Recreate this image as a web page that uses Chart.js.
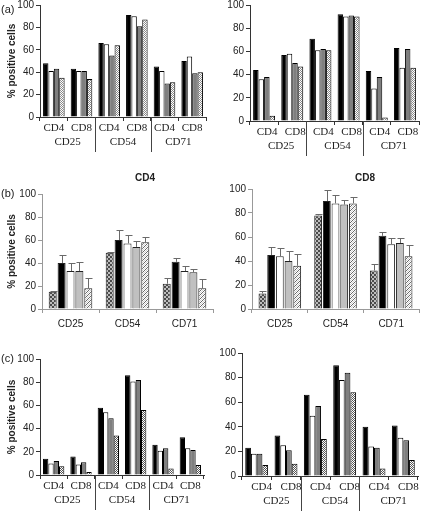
<!DOCTYPE html>
<html>
<head>
<meta charset="utf-8">
<script src="https://cdn.jsdelivr.net/npm/chart.js@4.4.0/dist/chart.umd.min.js"></script>
<style>
  body { margin: 0; background: #fff; }
  #page { position: relative; width: 421px; height: 513px; overflow: hidden; font-family: "Liberation Sans", Arial, sans-serif; color: #222; }
  canvas { position: absolute; }
  .tag { position: absolute; font-size: 11px; }
  .ttl { position: absolute; font-size: 10px; font-weight: bold; transform: translateX(-50%); }
</style>
</head>
<body>
<div id="page">
  <canvas id="a1"></canvas>
  <canvas id="a2"></canvas>
  <canvas id="b1"></canvas>
  <canvas id="b2"></canvas>
  <canvas id="c1"></canvas>
  <canvas id="c2"></canvas>
  <div class="tag" style="left:1px;top:3px">(a)</div>
  <div class="tag" style="left:1px;top:187px">(b)</div>
  <div class="tag" style="left:1px;top:352px">(c)</div>
  <div class="ttl" style="left:145px;top:172px">CD4</div>
  <div class="ttl" style="left:365px;top:172px">CD8</div>
</div>
<script>
// categories
const groupNames = ['CD25', 'CD54', 'CD71'];
const subsetNames = ['CD4', 'CD8', 'CD4', 'CD8', 'CD4', 'CD8'];

// (a) left
const a1Black = [48, 43, 66, 91, 45, 50];
const a1White = [41, 41, 65, 90, 41, 54];
const a1Gray  = [43, 41, 55, 81, 30, 39];
const a1Hatch = [35, 34, 64, 87, 31, 40];

// (a) right
const a2Black = [44, 57, 71, 92, 43, 63];
const a2White = [36, 58, 61, 90, 28, 46];
const a2Gray  = [38, 50, 62, 91, 38, 62];
const a2Hatch = [4.5, 47, 61, 90, 3, 46];

// (b) left - CD4, mean and upper error
const b1Check = [15, 49, 22];
const b1Black = [40, 60, 41];
const b1White = [33, 57, 33];
const b1Gray  = [33, 54, 32];
const b1Hatch = [18, 58, 18];
const b1CheckErr = [1, 1, 5];
const b1BlackErr = [7, 9, 3];
const b1WhiteErr = [7, 7, 4];
const b1GrayErr  = [8, 5, 3];
const b1HatchErr = [9, 5, 8];

// (b) right - CD8
const b2Check = [13, 78, 32];
const b2Black = [45, 90, 61];
const b2White = [44, 88, 54];
const b2Gray  = [40, 87, 55];
const b2Hatch = [36, 88, 44];
const b2CheckErr = [2, 1, 5.5];
const b2BlackErr = [7, 9.5, 3];
const b2WhiteErr = [7, 7, 5];
const b2GrayErr  = [8, 4, 4];
const b2HatchErr = [10, 5, 9];

// (c) left
const c1Black = [14, 16, 58, 86, 26, 32.5];
const c1White = [10, 9, 54, 80.5, 21, 23];
const c1Gray  = [12, 11, 49, 82, 23, 21.5];
const c1Hatch = [7.5, 2.6, 34, 56, 5.7, 8.6];

// (c) right
const c2Black = [23, 33, 66, 90, 40, 41];
const c2White = [18, 25, 49, 78, 24, 31];
const c2Gray  = [18, 21, 57, 84, 23, 29];
const c2Hatch = [9, 10, 30, 68, 6, 13];

Chart.defaults.font.family = '"Liberation Sans", Arial, sans-serif';
Chart.defaults.animation = false;

function makePattern(kind) {
  const c = document.createElement('canvas');
  c.width = 4; c.height = 4;
  const g = c.getContext('2d');
  g.fillStyle = '#fff';
  g.fillRect(0, 0, 4, 4);
  for (let y = 0; y < 4; y++) {
    for (let x = 0; x < 4; x++) {
      if (kind === 'dither' && (x + y) % 2 === 0) { g.fillStyle = '#8a8a8a'; g.fillRect(x, y, 1, 1); }
      if (kind === 'ditherDark' && (x + y) % 2 === 0) { g.fillStyle = '#555'; g.fillRect(x, y, 1, 1); }
      if (kind === 'blocks') {
        g.fillStyle = ((x >> 1) + (y >> 1)) % 2 ? '#bdbdbd' : '#4a4a4a';
        g.fillRect(x, y, 1, 1);
      }
      if (kind === 'diag' && (x + y) % 4 === 0) { g.fillStyle = '#6a6a6a'; g.fillRect(x, y, 1, 1); }
      if (kind === 'diag' && (x + y) % 4 === 2) { g.fillStyle = '#d0d0d0'; g.fillRect(x, y, 1, 1); }
    }
  }
  return g.createPattern(c, 'repeat');
}

const errorBars = {
  id: 'errorBars',
  afterDatasetsDraw(chart) {
    const ctx = chart.ctx, y = chart.scales.y;
    chart.data.datasets.forEach((ds, i) => {
      if (!ds.errors) return;
      chart.getDatasetMeta(i).data.forEach((bar, j) => {
        const top = Math.round(y.getPixelForValue(ds.data[j] + ds.errors[j])) + 0.5;
        const cx = Math.round(bar.x) + 0.5;
        ctx.save();
        ctx.strokeStyle = '#6a6a6a';
        ctx.lineWidth = 1;
        ctx.beginPath();
        ctx.moveTo(cx, bar.y);
        ctx.lineTo(cx, top);
        ctx.moveTo(cx - 3, top);
        ctx.lineTo(cx + 4, top);
        ctx.stroke();
        ctx.restore();
      });
    });
  }
};

const groupDividers = {
  id: 'groupDividers',
  afterDraw(chart, args, opts) {
    if (!opts.length) return;
    const x = chart.scales.x, ctx = chart.ctx, b = chart.chartArea.bottom;
    ctx.save();
    ctx.strokeStyle = '#444';
    ctx.lineWidth = 1;
    [2, 4].forEach(k => {
      const px = Math.round((x.getPixelForValue(k - 1) + x.getPixelForValue(k)) / 2) + 0.5;
      ctx.beginPath();
      ctx.moveTo(px, b);
      ctx.lineTo(px, b + opts.length);
      ctx.stroke();
    });
    ctx.restore();
  }
};

function fourBars(black, white, gray, hatch, hatchFill) {
  return [
    { data: black, backgroundColor: '#000' },
    { data: white, backgroundColor: '#fff' },
    { data: gray, backgroundColor: '#7f7f7f' },
    { data: hatch, backgroundColor: hatchFill }
  ].map(d => Object.assign(d, { borderColor: '#000', borderWidth: 1, barPercentage: 1, categoryPercentage: 0.78 }));
}

function fiveBars(vals, errs) {
  const fills = [makePattern('blocks'), '#000', '#fff', '#c0c0c0', makePattern('diag')];
  return vals.map((v, i) => ({
    data: v, errors: errs[i], backgroundColor: fills[i],
    borderColor: '#222', borderWidth: 1, barPercentage: 0.9, categoryPercentage: 0.78
  }));
}

function makeChart(id, box, area, labels, datasets, o) {
  const cv = document.getElementById(id);
  cv.width = box.w; cv.height = box.h;
  cv.style.left = box.x + 'px';
  cv.style.top = box.y + 'px';
  const axisColor = o.axisColor;
  const xH = o.twoRow ? 19 : 20;
  const x2H = o.twoRow ? 14 : 0;
  const xFont = o.twoRow ? { family: '"Liberation Serif", "Times New Roman", serif', size: 11 } : { size: 10 };
  const scales = {
    x: {
      type: 'category', offset: true, weight: 0,
      grid: { display: true, offset: true, drawOnChartArea: false, tickLength: 4, color: axisColor },
      border: { display: true, color: axisColor },
      ticks: { autoSkip: false, maxRotation: 0, padding: o.twoRow ? 1 : 5, color: '#222', font: xFont, labelOffset: o.labelOffset || 0 },
      afterFit: s => { s.height = xH; }
    },
    y: {
      min: 0, max: 100,
      ticks: { stepSize: 20, padding: 2, color: '#222', font: { size: 10 } },
      grid: { drawOnChartArea: false, tickLength: 4, color: axisColor },
      border: { display: true, color: axisColor },
      title: {
        display: !!o.yTitle, text: o.yTitle, color: '#222',
        font: { size: 10, weight: 'bold' }, padding: { top: 6, bottom: 0 }
      },
      afterFit: s => { s.width = area.l - box.x; }
    }
  };
  if (o.twoRow) {
    scales.x2 = {
      type: 'category', labels: groupNames, offset: true, position: 'bottom', weight: 1,
      grid: { display: false, drawTicks: false }, border: { display: false },
      ticks: { autoSkip: false, maxRotation: 0, padding: 0, color: '#222', font: xFont, labelOffset: o.labelOffset || 0 },
      afterFit: s => { s.height = x2H; }
    };
  }
  return new Chart(cv, {
    type: 'bar',
    data: { labels: labels, datasets: datasets },
    options: {
      responsive: false,
      animation: false,
      layout: {
        padding: {
          left: 0,
          top: area.t - box.y,
          right: box.x + box.w - area.r,
          bottom: box.y + box.h - area.b - xH - x2H
        }
      },
      scales: scales,
      plugins: {
        legend: { display: false },
        tooltip: { enabled: false },
        groupDividers: { length: o.twoRow ? 35 : 0 }
      }
    },
    plugins: [errorBars, groupDividers]
  });
}

const TITLE = '% positive cells';

makeChart('a1', { x: 0, y: -4, w: 212, h: 180 }, { l: 40, t: 5, r: 206, b: 117 }, subsetNames,
  fourBars(a1Black, a1White, a1Gray, a1Hatch, makePattern('dither')),
  { twoRow: true, yTitle: TITLE, axisColor: '#333' });

makeChart('a2', { x: 212, y: -4, w: 209, h: 180 }, { l: 250, t: 5, r: 419, b: 121 }, subsetNames,
  fourBars(a2Black, a2White, a2Gray, a2Hatch, makePattern('dither')),
  { twoRow: true, axisColor: '#333', labelOffset: 3 });

makeChart('b1', { x: 0, y: 182, w: 214, h: 150 }, { l: 42, t: 194, r: 213, b: 309 }, groupNames,
  fiveBars([b1Check, b1Black, b1White, b1Gray, b1Hatch], [b1CheckErr, b1BlackErr, b1WhiteErr, b1GrayErr, b1HatchErr]),
  { yTitle: TITLE, axisColor: '#999' });

makeChart('b2', { x: 214, y: 178, w: 207, h: 154 }, { l: 252, t: 189, r: 419, b: 309 }, groupNames,
  fiveBars([b2Check, b2Black, b2White, b2Gray, b2Hatch], [b2CheckErr, b2BlackErr, b2WhiteErr, b2GrayErr, b2HatchErr]),
  { axisColor: '#999' });

makeChart('c1', { x: 0, y: 350, w: 212, h: 163 }, { l: 40, t: 359, r: 204, b: 475 }, subsetNames,
  fourBars(c1Black, c1White, c1Gray, c1Hatch, makePattern('ditherDark')),
  { twoRow: true, yTitle: TITLE, axisColor: '#333' });

makeChart('c2', { x: 212, y: 344, w: 209, h: 169 }, { l: 242, t: 353, r: 418, b: 476 }, subsetNames,
  fourBars(c2Black, c2White, c2Gray, c2Hatch, makePattern('ditherDark')),
  { twoRow: true, axisColor: '#333', labelOffset: 5 });
</script>
</body>
</html>
